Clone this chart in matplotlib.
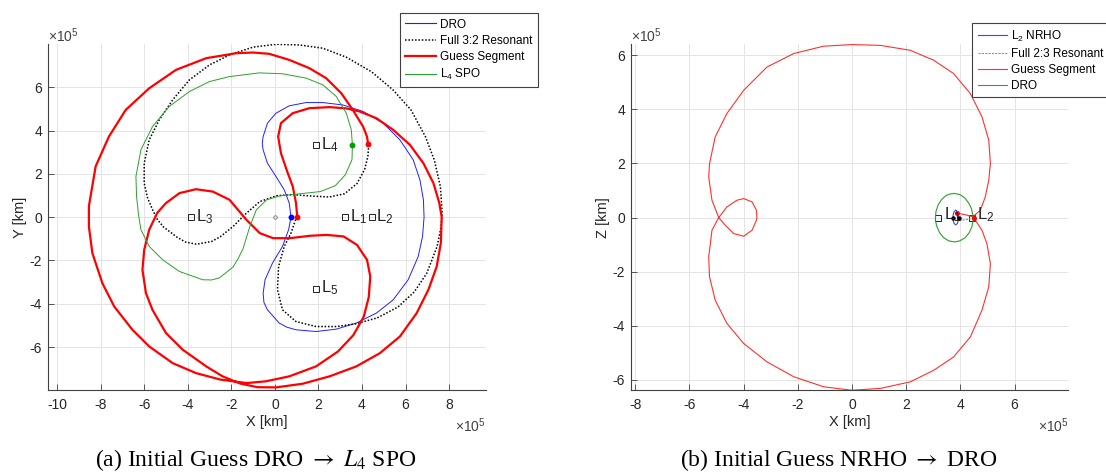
import matplotlib.pyplot as plt
from matplotlib.lines import Line2D

plt.rcParams['font.family'] = ['Liberation Sans', 'DejaVu Sans']
plt.rcParams['mathtext.fontset'] = 'stix'
plt.rcParams['axes.unicode_minus'] = False

# ---- (a) DRO -> L4 SPO, unidades de 1e5 km ----
dro_x = [0.74, 0.66, 0.43, 0.05, -0.34, -0.54, -0.58, -0.54, -0.34, 0.05, 0.66, 1.43, 2.2, 3.12, 4.05, 4.97,
         5.74, 6.35, 6.66, 6.82, 6.85, 6.78, 6.58, 6.12, 5.43, 4.66, 3.74, 2.82, 1.89, 0.97, 0.55, 0.2,
         -0.34, -0.5, -0.54, -0.45, -0.11, 0.35, 0.63, 0.74]
dro_y = [0.0, 0.65, 1.26, 1.88, 2.49, 3.11, 3.4, 3.72, 4.34, 4.8, 5.14, 5.29, 5.29, 5.18, 4.88, 4.34,
         3.57, 2.65, 1.72, 0.8, 0.0, -0.89, -1.82, -2.89, -3.82, -4.43, -4.89, -5.17, -5.28, -5.2, -5.08, -4.89,
         -4.28, -3.95, -3.51, -2.89, -2.12, -1.35, -0.58, 0.0]

spo_x = [3.56, 3.51, 3.28, 2.82, 2.2, 1.43, 0.35, -0.72, -2.08, -3.0, -3.92, -4.85, -5.62, -6.15,
         -6.38, -6.35, -6.26, -6.15, -5.77, -5.15, -4.38, -3.31, -2.9, -2.54, -1.92, -1.68, -1.46, -1.15, -0.85,
         -0.38, 0.23, 1.15, 2.08, 2.77, 3.23, 3.54, 3.56]
spo_y = [3.31, 4.03, 4.8, 5.57, 6.11, 6.42, 6.62, 6.66, 6.49, 6.26, 5.8, 5.11, 4.18, 3.11,
         1.88, 0.95, 0.1, -0.58, -1.35, -1.97, -2.51, -2.89, -2.9, -2.8, -2.3, -1.9, -1.45, -0.43, 0.34,
         0.8, 0.98, 1.08, 1.18, 1.45, 1.95, 2.65, 3.31]

res_x = [4.31, 4.27, 4.12, 3.77, 3.2, 2.5, 1.6, 0.8, 0.08, -0.69, -1.31, -1.92, -2.5, -2.9, -3.6, -4.1,
         -4.5, -5.12, -5.4, -5.6, -5.85, -6.0, -6.0, -5.77, -5.31, -4.69, -3.92, -3.0, -2.08, -1.0, 0.05,
         1.12, 2.2, 3.29, 4.44, 5.43, 6.25, 6.91, 7.32, 7.6, 7.68, 7.62, 7.45, 6.97, 6.4, 5.65, 4.7,
         3.74, 2.82, 1.89, 0.97, 0.35, 0.12, 0.17, 0.43, 0.74, 0.99]
res_y = [3.34, 2.8, 2.2, 1.55, 1.08, 0.93, 0.98, 1.04, 0.99, 0.72, 0.18, -0.43, -0.9, -1.12, -1.25, -1.15,
         -0.92, -0.45, -0.1, 0.3, 0.9, 1.57, 2.49, 3.57, 4.49, 5.42, 6.34, 7.03, 7.49, 7.85, 7.98,
         7.95, 7.8, 7.38, 6.71, 5.87, 4.95, 3.72, 2.64, 1.41, 0.2, -0.5, -1.35, -2.6, -3.45, -4.15, -4.65,
         -4.92, -5.05, -5.05, -4.82, -4.28, -3.35, -2.28, -1.35, -0.74, 0.0]

guess_x = [1.03, 0.97, 0.82, 0.54, 0.28, 0.15, 0.28, 0.82, 1.58, 2.51, 3.28, 3.89, 4.66, 5.43, 6.2,
           6.82, 7.28, 7.55, 7.66, 7.62, 7.43, 7.05, 6.51, 5.74, 4.82, 3.74, 2.51, 1.28, 0.05, -0.8,
           -1.6, -2.4, -3.15, -4.23, -5.0, -5.62, -5.92, -6.08, -6.0, -5.77, -5.4, -5.0, -4.38, -3.62,
           -2.85, -2.08, -1.31, -0.69, -0.08, 0.69, 1.62, 2.38, 3.15, 3.77, 4.23, 4.38, 4.31, 4.08,
           3.6, 2.9, 1.89, 0.66, -0.42, -1.3, -2.5, -3.62, -4.69, -5.77, -6.54, -7.38, -7.92, -8.38,
           -8.54, -8.54, -8.23, -7.62, -6.85, -5.77, -4.54, -3.15, -1.77, -1.0, -0.26, 0.66, 1.58,
           2.35, 3.05, 3.58, 4.05, 4.23, 4.28]
guess_y = [0.0, 0.65, 1.42, 2.18, 2.95, 3.72, 4.34, 4.8, 5.03, 5.08, 5.02, 4.88, 4.57, 4.03, 3.34,
           2.49, 1.57, 0.65, 0.0, -1.2, -2.28, -3.35, -4.43, -5.51, -6.28, -6.89, -7.35, -7.69, -7.86, -7.85,
           -7.68, -7.35, -6.89, -6.12, -5.35, -4.28, -3.51, -2.43, -1.51, -0.58, 0.2, 0.65, 1.11, 1.29,
           1.18, 0.8, -0.12, -0.74, -0.97, -0.97, -0.86, -0.82, -0.89, -1.28, -1.97, -2.74, -3.7, -4.6,
           -5.45, -6.2, -6.89, -7.35, -7.58, -7.66, -7.5, -7.2, -6.74, -5.97, -5.2, -4.12, -3.05, -1.66,
           -0.43, 0.5, 2.34, 3.72, 4.95, 5.95, 6.8, 7.34, 7.57, 7.6, 7.54, 7.26, 6.88,
           6.42, 5.72, 4.95, 4.18, 3.72, 3.38]

lag_a_nombres = ['L_1', 'L_2', 'L_3', 'L_4', 'L_5']
lag_a_x = [3.21, 4.44, -3.83, 1.88, 1.88]
lag_a_y = [0.0, 0.0, 0.0, 3.33, -3.3]

# ---- (b) NRHO -> DRO ----
seg_x = [3.89, 4.2, 4.46, 4.74, 4.92, 5.05, 5.11, 5.05, 4.8, 4.37, 3.75, 3.02, 2.15, 1.05, 0.0, -1.05,
         -2.15, -3.14, -4.0, -4.62, -5.05, -5.26, -5.29, -5.17, -4.92, -4.68, -4.37, -4.0, -3.69, -3.53,
         -3.51, -3.53, -3.69, -4.0, -4.25, -4.62, -4.92, -5.17, -5.29, -5.26, -5.05, -4.62, -4.0, -3.14,
         -2.15, -1.05, 0.0, 1.05, 2.15, 3.02, 3.75, 4.37, 4.8, 5.05, 5.11, 4.98, 4.8, 4.49]
seg_y = [0.16, 0.1, 0.03, 0.27, 0.76, 1.38, 1.99, 2.86, 3.72, 4.58, 5.32, 5.81, 6.18, 6.36, 6.39, 6.33,
         6.06, 5.56, 4.7, 3.84, 2.98, 1.99, 1.5, 0.64, 0.0, -0.28, -0.59, -0.69, -0.47, -0.1,
         0.0, 0.27, 0.58, 0.7, 0.64, 0.39, 0.0, -0.47, -1.45, -2.19, -3.05, -3.91, -4.65, -5.33,
         -5.88, -6.25, -6.38, -6.31, -6.07, -5.64, -5.15, -4.41, -3.42, -2.56, -1.7, -0.96, -0.47, 0.0]

nrho_x = [3.83, 3.89, 3.92, 3.93, 3.92, 3.89, 3.83, 3.77, 3.74, 3.73, 3.74, 3.77, 3.83]
nrho_y = [0.27, 0.22, 0.12, 0.0, -0.12, -0.22, -0.27, -0.22, -0.12, 0.0, 0.12, 0.22, 0.27]

dro2_x = [3.78, 3.98, 4.16, 4.3, 4.41, 4.46, 4.47, 4.42, 4.32, 4.17, 3.98, 3.78, 3.57, 3.38,
          3.23, 3.12, 3.08, 3.1, 3.18, 3.31, 3.48, 3.62, 3.78]
dro2_y = [0.89, 0.85, 0.73, 0.55, 0.33, 0.1, -0.12, -0.36, -0.57, -0.75, -0.86, -0.9, -0.86, -0.74,
          -0.55, -0.3, -0.05, 0.22, 0.47, 0.67, 0.82, 0.87, 0.89]

res2_x = [3.96, 4.38]
res2_y = [-0.12, -0.04]

lag_b_nombres = ['L_1', 'L_2']
lag_b_x = [3.19, 4.42]
lag_b_y = [0.0, 0.0]

W, H = 1106, 472
fig = plt.figure(figsize=(W / 100, H / 100), dpi=100)


def ejes_px(x0, y0, x1, y1):
    return fig.add_axes([x0 / W, 1 - y1 / H, (x1 - x0) / W, (y1 - y0) / H])


def estilo(ax, xlim, ylim, xticks, yticks):
    ax.set_xlim(xlim)
    ax.set_ylim(ylim)
    ax.set_xticks(xticks)
    ax.set_yticks(yticks)
    ax.grid(True, color='#e4e4e4', lw=0.7)
    ax.set_axisbelow(True)
    for s in ['top', 'right']:
        ax.spines[s].set_visible(False)
    for s in ['left', 'bottom']:
        ax.spines[s].set_color('#404040')
        ax.spines[s].set_linewidth(0.8)
    ax.tick_params(direction='in', length=4, width=0.6, color='#404040',
                   labelsize=10, labelcolor='#262626')
    ax.tick_params(axis='x', pad=6)
    ax.tick_params(axis='y', pad=4)


# ---------------- panel (a) ----------------
ax1 = ejes_px(47.5, 44.3, 485.7, 390)
estilo(ax1, (-10.44, 9.68), (-7.98, 7.98), range(-10, 9, 2), range(-6, 7, 2))

ax1.plot(dro_x, dro_y, color='#2020ff', lw=0.7)
ax1.plot(res_x, res_y, color='black', lw=1.1, ls=(0, (1, 1.2)))
ax1.plot(guess_x, guess_y, color='#ff0000', lw=1.6)
ax1.plot(spo_x, spo_y, color='#2ca02c', lw=0.7)

ax1.plot([0.0], [0.0], 'o', ms=2.5, mfc='none', mec='#707070', mew=0.6)
ax1.plot([dro_x[0]], [dro_y[0]], 'o', ms=3.2, color='#0000ff')
ax1.plot([guess_x[0], guess_x[-1]], [guess_y[0], guess_y[-1]], 'o', ms=3.2, ls='none', color='#ff0000')
ax1.plot([spo_x[0]], [spo_y[0]], 'o', ms=3.2, color='#00a000')

for nom, x, y in zip(lag_a_nombres, lag_a_x, lag_a_y):
    ax1.plot([x], [y], 's', ms=4.5, mfc='none', mec='#222222', mew=0.7)
    ax1.annotate(r'$\mathregular{' + nom + '}$', (x, y), xytext=(3.5, 0.5),
                 textcoords='offset points', ha='left', va='center', fontsize=12, color='#222222')

ax1.set_xlabel('X [km]', fontsize=10.5, color='#262626', labelpad=2)
ax1.set_ylabel('Y [km]', fontsize=10.5, color='#262626', labelpad=2)

h1 = [Line2D([], [], color='#2020ff', lw=0.8),
      Line2D([], [], color='black', lw=1.1, ls=(0, (1, 1.2))),
      Line2D([], [], color='#ff0000', lw=1.6),
      Line2D([], [], color='#2ca02c', lw=0.8)]
l1 = ['DRO', 'Full 3:2 Resonant', 'Guess Segment', r'$\mathregular{L_4}$ SPO']
leg1 = ax1.legend(h1, l1, loc='upper left', bbox_to_anchor=(400 / W, 1 - 13.3 / H),
                  bbox_transform=fig.transFigure, fontsize=8.5, handlelength=2.6,
                  handletextpad=0.35, borderpad=0.45, labelspacing=0.35, fancybox=False,
                  framealpha=1, edgecolor='#404040', borderaxespad=0)
leg1.get_frame().set_linewidth(0.8)

# ---------------- panel (b) ----------------
ax2 = ejes_px(630.7, 44.3, 1068.4, 390)
estilo(ax2, (-8.17, 7.99), (-6.37, 6.40), range(-8, 7, 2), range(-6, 7, 2))

for nom, x, y in zip(lag_b_nombres, lag_b_x, lag_b_y):
    ax2.plot([x], [y], 's', ms=4.5, mfc='none', mec='#222222', mew=0.7)
    ax2.annotate(r'$\mathregular{' + nom + '}$', (x, y), xytext=(4, 2),
                 textcoords='offset points', ha='left', va='center', fontsize=12, color='#222222')

ax2.plot(nrho_x, nrho_y, color='#4040ff', lw=0.8)
ax2.plot(res2_x, res2_y, color='#909090', lw=0.8, ls=(0, (2, 1)))
ax2.plot(seg_x, seg_y, color='#ff3030', lw=0.8)
ax2.plot(dro2_x, dro2_y, color='#2ca02c', lw=0.8)
ax2.plot([3.73, 3.96], [0.0, 0.0], 'o', ms=2.2, ls='none', color='black')
ax2.plot([seg_x[0], seg_x[-1]], [seg_y[0], seg_y[-1]], 'o', ms=2.6, ls='none', color='#ff0000')

ax2.set_xlabel('X [km]', fontsize=10.5, color='#262626', labelpad=2)
ax2.set_ylabel('Z [km]', fontsize=10.5, color='#262626', labelpad=2)

h2 = [Line2D([], [], color='#4040ff', lw=0.8),
      Line2D([], [], color='#909090', lw=0.8, ls=(0, (2, 1))),
      Line2D([], [], color='#ff3030', lw=0.8),
      Line2D([], [], color='#2ca02c', lw=0.8)]
l2 = [r'$\mathregular{L_2}$ NRHO', 'Full 2:3 Resonant', 'Guess Segment', 'DRO']
leg2 = ax2.legend(h2, l2, loc='upper left', bbox_to_anchor=(972.3 / W, 1 - 23.3 / H),
                  bbox_transform=fig.transFigure, fontsize=8.5, handlelength=2.5,
                  handletextpad=0.35, borderpad=0.45, labelspacing=0.35, fancybox=False,
                  framealpha=1, edgecolor='#404040', borderaxespad=0)
leg2.get_frame().set_linewidth(0.8)

# escala x10^5 y pies de figura
escala = r'$\mathregular{\times10^{5}}$'
fig.text(47.5 / W, 1 - 42 / H, escala, fontsize=10, color='#404040', ha='left', va='baseline')
fig.text(485.7 / W, 1 - 432 / H, escala, fontsize=10, color='#404040', ha='right', va='baseline')
fig.text(630.7 / W, 1 - 42 / H, escala, fontsize=10, color='#404040', ha='left', va='baseline')
fig.text(1068.4 / W, 1 - 432 / H, escala, fontsize=10, color='#404040', ha='right', va='baseline')

fig.text(256 / W, 1 - 460 / H, r'(a) Initial Guess DRO $\rightarrow$ $L_4$ SPO',
         family='Liberation Serif', fontsize=17, ha='center', va='center')
fig.text(839 / W, 1 - 460 / H, r'(b) Initial Guess NRHO $\rightarrow$ DRO',
         family='Liberation Serif', fontsize=17, ha='center', va='center')

fig.savefig('out.png', dpi=100)
